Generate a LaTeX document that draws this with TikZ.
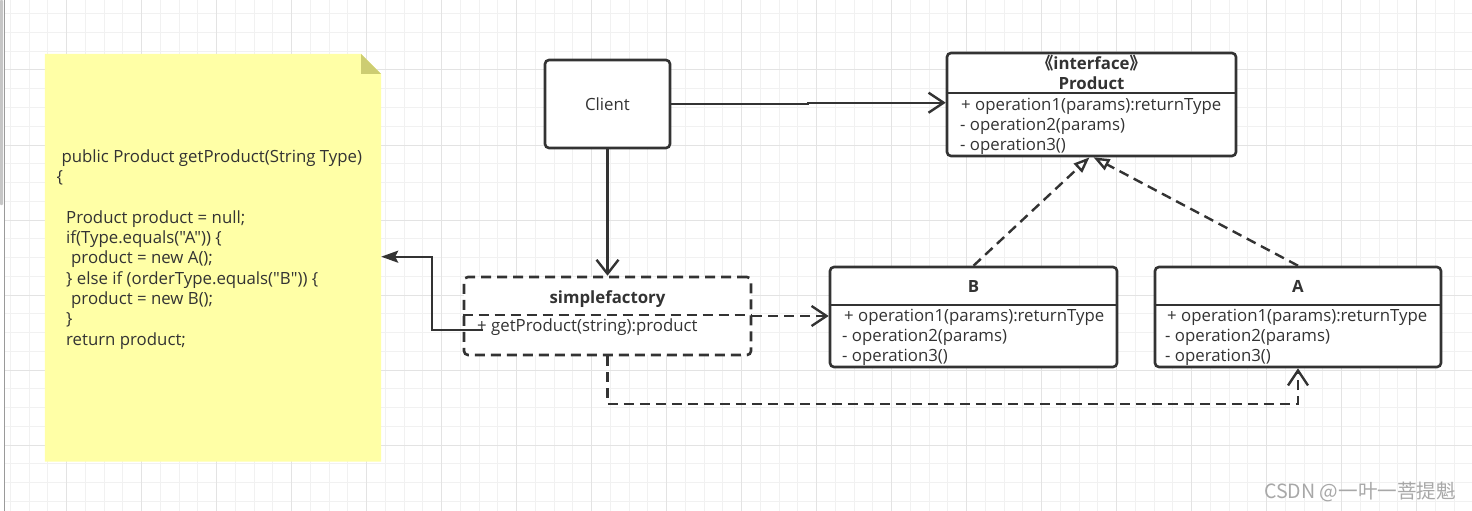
\documentclass[tikz,border=0pt]{standalone}
\usepackage{fontspec}
\setmainfont{Open Sans}[Ligatures=TeXOff]
\newfontfamily\cjkfont{Noto Sans CJK SC}
\usetikzlibrary{arrows.meta}
\definecolor{ink}{HTML}{333333}
\definecolor{gridminor}{HTML}{F1F1F1}
\definecolor{gridmajor}{HTML}{E3E3E3}
\definecolor{notefill}{HTML}{FFFFA6}
\definecolor{notefold}{HTML}{CDCD72}
\definecolor{wmgray}{HTML}{A8A8A8}
\definecolor{panelgray}{HTML}{9A9A9A}
\definecolor{scrollgray}{HTML}{C6C6C6}
\begin{document}
\begin{tikzpicture}[x=1pt,y=-1pt,
  every node/.style={inner sep=0pt, text=ink, font=\fontsize{16.8}{20}\selectfont},
  box/.style={draw=ink, line width=2.6pt, rounded corners=4pt, fill=white},
  dbox/.style={box, dash pattern=on 10pt off 6pt},
  divider/.style={draw=ink, line width=2.2pt},
  ddivider/.style={divider, dash pattern=on 10pt off 6pt},
  txt/.style={anchor=base west},
  ttl/.style={anchor=base, font=\fontsize{16.8}{20}\selectfont\bfseries},
  code/.style={anchor=base west},
  conn/.style={draw=ink, line width=2.4pt},
  dconn/.style={conn, dash pattern=on 10pt off 6pt},
  openarrow/.style={-{Straight Barb[length=15pt,width=20pt]}},
  downarrow/.style={-{Straight Barb[length=14pt,width=22pt]}},
  triarrow/.style={-{Triangle[length=16pt,width=12pt,fill=white]}},
  fillarrow/.style={-{Stealth[length=17pt,width=12pt,inset=3pt]}},
  gridline/.style={draw=gridminor, line width=1pt},
  majorline/.style={draw=gridmajor, line width=1pt}
]
\useasboundingbox (0,0) rectangle (1472,511);
\fill[white] (0,0) rectangle (1472,511);
% grid
\foreach \i in {0,...,77} { \draw[gridline] ({10.4+18.75*\i},0) -- ({10.4+18.75*\i},511); }
\foreach \j in {0,...,26} { \draw[gridline] (5,{13.75+18.75*\j}) -- (1472,{13.75+18.75*\j}); }
\foreach \i in {0,...,18} { \draw[majorline] ({66.65+75*\i},0) -- ({66.65+75*\i},511); }
\foreach \j in {0,...,5} { \draw[majorline] (5,{70+75*\j}) -- (1472,{70+75*\j}); }
\fill[scrollgray, rounded corners=1pt] (0,0) rectangle (3,205);
\draw[panelgray, line width=1.2pt] (4.6,0) -- (4.6,511);

% note
\node[minimum width=336pt, minimum height=407.5pt] (note) at (213,257.75) {};
\fill[notefill] (note.north west) -- (361,54) -- (381,74) -- (note.south east) -- (note.south west) -- cycle;
\fill[notefold] (361,54) -- (381,74) -- (361,74) -- cycle;
\node[code] (c1) at (61.3,162.3) {public Product getProduct(String Type)};
\node[code] (c2) at (56.5,182.6) {\{};
\node[code] (c4) at (66,223.2) {Product product = null;};
\node[code] (c5) at (66,243.5) {if(Type.equals("A")) \{};
\node[code] (c6) at (71,263.8) {product = new A();};
\node[code] (c7) at (66,284.1) {\} else if (orderType.equals("B")) \{};
\node[code] (c8) at (71,304.4) {product = new B();};
\node[code] (c9) at (66,324.7) {\}};
\node[code] (c10) at (66,345) {return product;};

% Client
\node[box, minimum width=125pt, minimum height=88pt] (client) at (607.5,104) {Client};

% Product interface
\node[box, minimum width=289pt, minimum height=103pt] (P) at (1091.5,104.5) {};
\draw[divider] (P.west |- 0,93.3) -- (P.east |- 0,93.3);
\node[ttl] (Pst) at (1091.5,70) {{\cjkfont 《}interface{\cjkfont 》}};
\node[ttl] (Pname) at (1091.5,89) {Product};
\node[txt] (P1) at (961,110) {+ operation1(params):returnType};
\node[txt] (P2) at (960,130) {- operation2(params)};
\node[txt] (P3) at (960,150) {- operation3()};

% simplefactory
\node[dbox, minimum width=287pt, minimum height=78pt] (SF) at (607.5,316) {};
\draw[ddivider] (SF.west |- 0,315) -- (SF.east |- 0,315);
\node[ttl] (SFt) at (607.5,303.3) {simplefactory};
\node[txt] (SFa) at (477,331) {+ getProduct(string):product};

% B
\node[box, minimum width=287pt, minimum height=100pt] (B) at (973.5,317) {};
\draw[divider] (B.west |- 0,305) -- (B.east |- 0,305);
\node[ttl] (Bt) at (973.5,292.5) {B};
\node[txt] (B1) at (844,321.7) {+ operation1(params):returnType};
\node[txt] (B2) at (842,341.7) {- operation2(params)};
\node[txt] (B3) at (842,361.7) {- operation3()};

% A
\node[box, minimum width=286pt, minimum height=100pt] (A) at (1298,317) {};
\draw[divider] (A.west |- 0,305) -- (A.east |- 0,305);
\node[ttl] (At) at (1298,292.5) {A};
\node[txt] (A1) at (1167,321.7) {+ operation1(params):returnType};
\node[txt] (A2) at (1165,341.7) {- operation2(params)};
\node[txt] (A3) at (1165,361.7) {- operation3()};

% connectors
\draw[conn, openarrow] (client.east) -- (808,104) -- (808,102.7) -- (P.west |- 0,102.7);
\draw[conn, downarrow] (client.south) -- (SF.north);
\draw[dconn, openarrow] (SF.east) -- (B.west |- SF.east);
\draw[dconn, triarrow] (B.north) -- ([xshift=-2pt]P.south);
\draw[dconn, triarrow] (A.north) -- ([xshift=2pt]P.south);
\draw[dconn, openarrow] (SF.south) -- (SF.south |- 0,404) -| (A.south);
\coordinate (gp) at (483,330);
\draw[conn, fillarrow] (gp) -- (431.7,330) -- (431.7,256.7) -- (note.east |- 0,256.7);

% watermark
\node[anchor=base west, font=\cjkfont\fontsize{19.6}{20}\selectfont, text=wmgray] (wm) at (1264,498.3) {CSDN @一叶一菩提魁};
\end{tikzpicture}
\end{document}
